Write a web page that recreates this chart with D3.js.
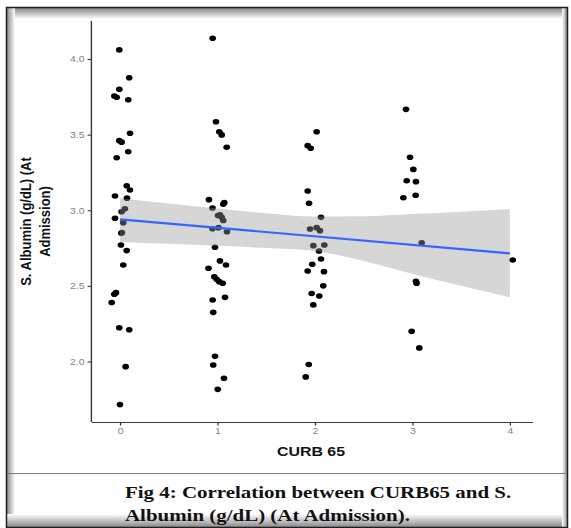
<!DOCTYPE html>
<html>
<head>
<meta charset="utf-8">
<script src="https://cdn.jsdelivr.net/npm/d3@7"></script>
<style>
  body { margin: 0; background: #fff; }
  svg { display: block; }
</style>
</head>
<body>
<svg id="fig"></svg>
<script>
// ---- values ----
// jittered CURB 65 score of every patient (x) and albumin at admission (y)
const curbX = [
  -0.007, 0.095, -0.007, -0.058, -0.034, 0.085, 0.103, -0.007, 0.017, 0.085, -0.034, 0.069, 0.103, -0.051, 0.072, 0.051,
  0.017, -0.051, 0.034, 0.015, 0.020, 0.010, 0.069, 0.034, -0.041, -0.058, -0.085, -0.007, 0.095, 0.058, 0.000,
  0.951, 0.985, 1.019, 1.044, 1.095, 0.913, 0.949, 1.070, 1.060, 1.006, 1.026, 1.044, 1.060, 0.949, 1.011, 1.098,
  0.975, 1.026, 1.088, 0.908, 0.968, 0.992, 1.019, 1.054, 0.951, 1.078, 0.957, 0.975, 0.957, 1.067, 1.003,
  2.018, 1.926, 1.957, 1.926, 1.940, 2.063, 1.950, 2.018, 2.052, 1.984, 2.097, 2.042, 2.063, 1.973, 1.926, 2.093,
  2.086, 1.967, 2.045, 1.984, 1.937, 1.906,
  2.935, 2.976, 3.010, 2.942, 3.037, 2.908, 3.034, 3.096, 3.037, 3.044, 2.993, 3.071,
  4.030
];
const albumin = [
  4.06, 3.876, 3.80, 3.755, 3.747, 3.73, 3.509, 3.46, 3.45, 3.387, 3.347, 3.162, 3.134, 3.094, 3.08, 3.01,
  2.99, 2.947, 2.918, 2.848, 2.852, 2.77, 2.733, 2.638, 2.455, 2.445, 2.39, 2.223, 2.21, 1.966, 1.715,
  4.137, 3.585, 3.519, 3.498, 3.416, 3.07, 3.015, 3.05, 3.04, 2.965, 2.97, 2.953, 2.932, 2.878, 2.885, 2.858,
  2.755, 2.665, 2.638, 2.616, 2.56, 2.543, 2.528, 2.517, 2.407, 2.424, 2.325, 2.034, 1.977, 1.889, 1.816,
  3.519, 3.427, 3.41, 3.127, 3.046, 2.953, 2.876, 2.885, 2.865, 2.766, 2.77, 2.73, 2.678, 2.643, 2.598, 2.594,
  2.50, 2.45, 2.433, 2.374, 1.98, 1.898,
  3.667, 3.35, 3.27, 3.195, 3.189, 3.083, 3.099, 2.785, 2.53, 2.517, 2.20, 2.09,
  2.671
];

// linear fit and its confidence band (geom_smooth, method = "lm")
const fitX = [0, 4];
const fitY = [2.94, 2.715];
const bandX = [0, 0.5, 1, 1.5, 2, 2.5, 3, 3.5, 4];
const bandUpper = [3.08, 3.045, 3.012, 2.98, 2.958, 2.96, 2.975, 2.99, 3.008];
const bandLower = [2.79, 2.778, 2.765, 2.75, 2.73, 2.665, 2.58, 2.50, 2.424];

const xTicks = [0, 1, 2, 3, 4];
const yTicks = [2.0, 2.5, 3.0, 3.5, 4.0];
const xTitle = "CURB 65";
const yTitle = ["S. Albumin (g/dL) (At", "Admission)"];
const caption = ["Fig 4: Correlation between CURB65 and S.", "Albumin (g/dL) (At Admission)."];

// ---- layout ----
const W = 571, H = 528;
const SX = 1.19;   // the original figure is stretched sideways

const svg = d3.select("#fig").attr("width", W).attr("height", H);
const defs = svg.append("defs");

function grad(id, x2, y2, c0, c1) {
    const g = defs.append("linearGradient").attr("id", id)
        .attr("x1", 0).attr("y1", 0).attr("x2", x2).attr("y2", y2);
    g.append("stop").attr("offset", 0).attr("stop-color", c0);
    g.append("stop").attr("offset", 1).attr("stop-color", c1);
}
grad("shTop", 0, 1, "#858585", "#ffffff");
grad("shLeft", 1, 0, "#8a8a8a", "#ffffff");
grad("shBottom", 0, 1, "#ffffff", "#8a8a8a");
grad("shRight", 1, 0, "#ffffff", "#9a9a9a");

// frame with inner shadow
svg.append("rect").attr("x", 7).attr("y", 8).attr("width", 560).attr("height", 11).attr("fill", "url(#shTop)");
svg.append("rect").attr("x", 7).attr("y", 8).attr("width", 8).attr("height", 519).attr("fill", "url(#shLeft)");
svg.append("rect").attr("x", 7).attr("y", 514).attr("width", 560).attr("height", 13).attr("fill", "url(#shBottom)");
svg.append("rect").attr("x", 562).attr("y", 8).attr("width", 5).attr("height", 519).attr("fill", "url(#shRight)");
svg.append("rect")
    .attr("x", 6.5).attr("y", 7.5).attr("width", 561).attr("height", 520)
    .attr("fill", "none").attr("stroke", "#1e1e1e").attr("stroke-width", 1.5);
svg.append("line")
    .attr("x1", 7).attr("x2", 566).attr("y1", 473.5).attr("y2", 473.5)
    .attr("stroke", "#7a7a7a").attr("stroke-width", 1);
svg.append("line")
    .attr("x1", 565.5).attr("x2", 565.5).attr("y1", 9).attr("y2", 473)
    .attr("stroke", "#a0a0a0").attr("stroke-width", 1);

// chart group, drawn in unstretched units then scaled sideways
const g = svg.append("g").attr("transform", `scale(${SX},1)`);

const x = d3.scaleLinear().domain([-0.287, 4.238]).range([92 / SX, 533 / SX]);
const y = d3.scaleLinear().domain([1.6, 4.251]).range([422, 21]);

// points
const pts = d3.zip(curbX, albumin);
g.append("g").selectAll("circle")
    .data(pts)
    .join("circle")
    .attr("cx", d => x(d[0]))
    .attr("cy", d => y(d[1]))
    .attr("r", 2.8)
    .attr("fill", "#000");

// confidence band
const band = d3.area()
    .x(d => x(d[0]))
    .y0(d => y(d[1]))
    .y1(d => y(d[2]))
    .curve(d3.curveMonotoneX);
g.append("path")
    .datum(d3.zip(bandX, bandLower, bandUpper))
    .attr("d", band)
    .attr("fill", "#999999")
    .attr("fill-opacity", 0.4);

// fitted line
g.append("path")
    .datum(d3.zip(fitX, fitY))
    .attr("d", d3.line().x(d => x(d[0])).y(d => y(d[1])))
    .attr("fill", "none")
    .attr("stroke", "#3366FF")
    .attr("stroke-width", 2.2);

// axes
const axisColor = "#3a3a3a";
const xAxis = g.append("g")
    .attr("transform", `translate(0,422)`)
    .call(d3.axisBottom(x).tickValues(xTicks).tickFormat(d3.format("d")).tickSize(3.5).tickPadding(2.5));
const yAxis = g.append("g")
    .attr("transform", `translate(${92 / SX},0)`)
    .call(d3.axisLeft(y).tickValues(yTicks).tickFormat(d3.format(".1f")).tickSize(3.7).tickPadding(2.6));

[xAxis, yAxis].forEach(a => {
    a.select(".domain").attr("stroke", axisColor).attr("stroke-width", 1.2);
    a.selectAll(".tick line").attr("stroke", axisColor).attr("stroke-width", 1.1);
    a.selectAll(".tick text")
        .attr("fill", "#858585")
        .attr("font-family", "Liberation Sans, Arial, sans-serif")
        .attr("font-size", 8.8);
});
// straight axis lines without the d3 end caps
xAxis.select(".domain").attr("d", `M${92 / SX},0.5H${533 / SX}`);
yAxis.select(".domain").attr("d", `M-0.5,422V21`);

// axis titles
g.append("text")
    .attr("x", 311 / SX).attr("y", 455.7)
    .attr("text-anchor", "middle")
    .attr("font-family", "Liberation Sans, Arial, sans-serif")
    .attr("font-weight", "bold")
    .attr("font-size", 13.4)
    .attr("fill", "#111")
    .text(xTitle);

const yt = g.append("text")
    .attr("transform", `translate(${31 / SX},221.5) rotate(-90)`)
    .attr("text-anchor", "middle")
    .attr("font-family", "Liberation Sans, Arial, sans-serif")
    .attr("font-weight", "bold")
    .attr("font-size", 13)
    .attr("fill", "#111");
yt.selectAll("tspan")
    .data(yTitle)
    .join("tspan")
    .attr("x", 0)
    .attr("dy", (d, i) => i === 0 ? 0 : 16.2)
    .text(d => d);

// caption below the figure
g.append("g").selectAll("text")
    .data(caption)
    .join("text")
    .attr("x", 125 / SX)
    .attr("y", (d, i) => 497.7 + i * 23)
    .attr("font-family", "Liberation Serif, Times New Roman, serif")
    .attr("font-weight", "bold")
    .attr("font-size", 17.6)
    .attr("fill", "#111")
    .text(d => d);
</script>
</body>
</html>
